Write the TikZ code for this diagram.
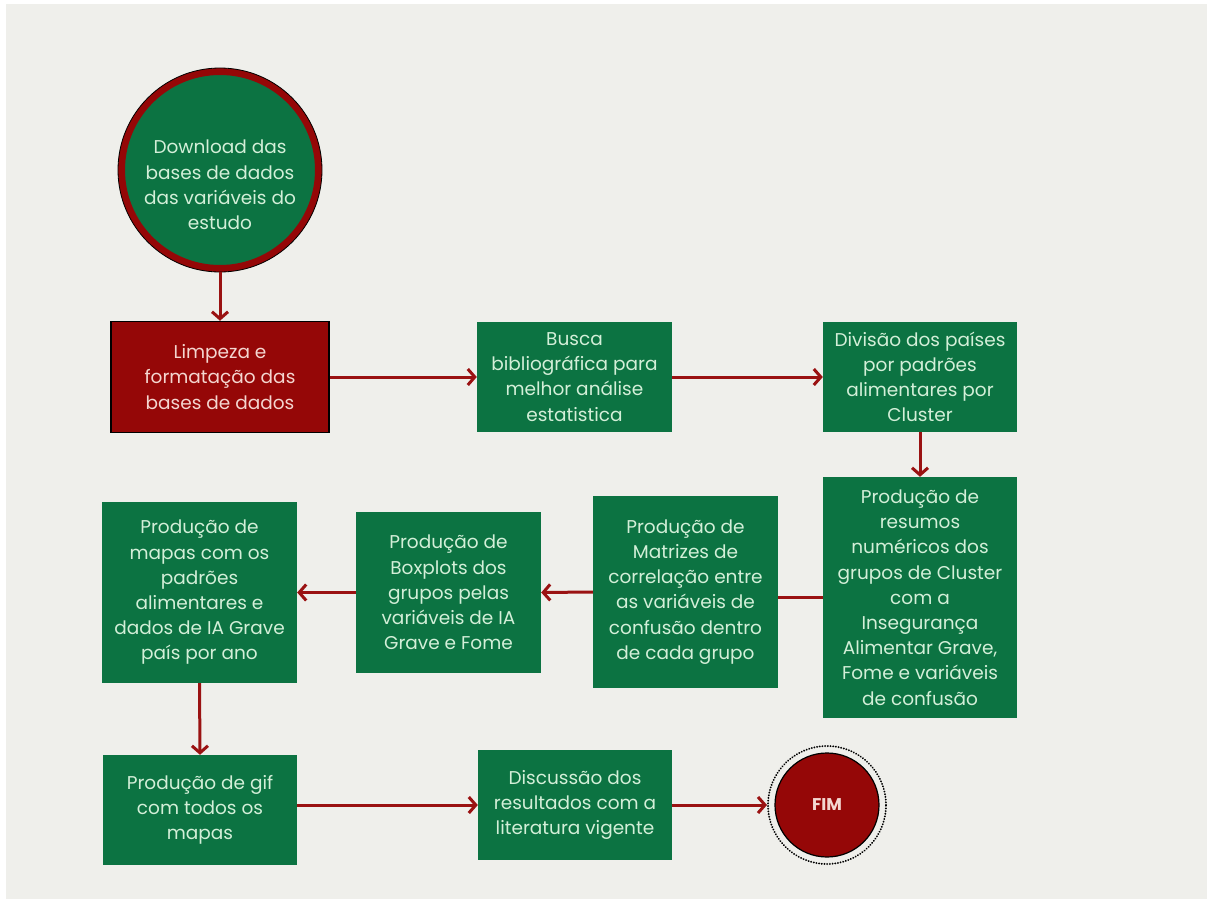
\documentclass[tikz,border=0pt]{standalone}
\usepackage{fontspec}
\setmainfont{Poppins}
\usetikzlibrary{arrows.meta}
\definecolor{bggray}{HTML}{EFEFEB}
\definecolor{boxgreen}{HTML}{0C7342}
\definecolor{boxred}{HTML}{950707}
\definecolor{arrred}{HTML}{9A1212}
\definecolor{txtgreen}{HTML}{D3EFD8}
\definecolor{txtred}{HTML}{F4D6D0}
\begin{document}
\begin{tikzpicture}[x=1pt,y=-1pt,
  boxtext/.style={align=center, inner sep=0pt, font=\fontsize{18.5}{25.2}\selectfont},
  gbox/.style={rectangle, fill=boxgreen, text=txtgreen, boxtext},
  rbox/.style={rectangle, fill=boxred, draw=black, line width=1.5pt, text=txtred, boxtext},
  conn/.style={draw=arrred, line width=3pt, -{Straight Barb[length=7pt,width=16pt]}},
  plainconn/.style={draw=arrred, line width=3pt}
]
\useasboundingbox (0,0) rectangle (1207,899);
\fill[white] (0,0) rectangle (1207,899);
\fill[bggray] (6,4) rectangle (1207,899);

% start circle
\node[circle, fill=boxgreen, draw=boxred, line width=7pt, minimum size=197pt, inner sep=0pt] (start) at (220,170) {};
\draw[black, line width=0.8pt] (start.center) circle (102);
\node[boxtext, text=txtgreen] (starttxt) at (220,185) {Download das\\bases de dados\\das variáveis do\\estudo};

\node[rbox, minimum width=218pt, minimum height=111pt] (limpeza) at (220,377) {Limpeza e\\formatação das\\bases de dados};
\node[gbox, minimum width=195pt, minimum height=110pt] (busca) at (574.5,377) {Busca\\bibliográfica para\\melhor análise\\estatistica};
\node[gbox, minimum width=194pt, minimum height=110pt] (divisao) at (920,377) {Divisão dos países\\por padrões\\alimentares por\\Cluster};
\node[gbox, minimum width=194pt, minimum height=241pt] (cluster) at (920,597.5) {Produção de\\resumos\\numéricos dos\\grupos de Cluster\\com a\\Insegurança\\Alimentar Grave,\\Fome e variáveis\\de confusão};
\node[gbox, minimum width=185pt, minimum height=192pt] (matrizes) at (685.5,592) {Produção de\\Matrizes de\\correlação entre\\as variáveis de\\confusão dentro\\de cada grupo};
\node[gbox, minimum width=185pt, minimum height=161pt] (boxplots) at (448.5,592.5) {Produção de\\Boxplots dos\\grupos pelas\\variáveis de IA\\Grave e Fome};
\node[gbox, minimum width=195pt, minimum height=181pt] (mapas) at (199.5,592.5) {Produção de\\mapas com os\\padrões\\alimentares e\\dados de IA Grave\\país por ano};
\node[gbox, minimum width=194pt, minimum height=110pt] (gif) at (200,810) {Produção de gif\\com todos os\\mapas};
\node[gbox, minimum width=194pt, minimum height=110pt] (discussao) at (575,805) {Discussão dos\\resultados com a\\literatura vigente};

% end circle
\node[circle, draw=black, line width=2pt, dash pattern=on 0.1pt off 2.6pt, line cap=round, minimum size=118pt, inner sep=0pt] (fim) at (827,805) {};
\fill[boxred, draw=black, line width=1.2pt] (fim.center) circle (52);
\node[text=txtred, font=\fontsize{17}{20}\selectfont\bfseries, inner sep=0pt] (fimtxt) at (fim.center) {FIM};

% connectors
\draw[conn] (start.south) -- (limpeza.north);
\draw[conn] (limpeza.east) -- (busca.west);
\draw[conn] (busca.east) -- (divisao.west);
\draw[conn] (divisao.south) -- (cluster.north);
\draw[plainconn] (cluster.west) -- (matrizes.east |- cluster.west);
\draw[conn] (matrizes.west) -- (boxplots.east);
\draw[conn] (boxplots.west) -- (mapas.east);
\draw[conn] (mapas.south) -- (gif.north);
\draw[conn] (gif.east |- discussao.west) -- (discussao.west);
\draw[conn] (discussao.east) -- (fim.west);
\end{tikzpicture}
\end{document}
